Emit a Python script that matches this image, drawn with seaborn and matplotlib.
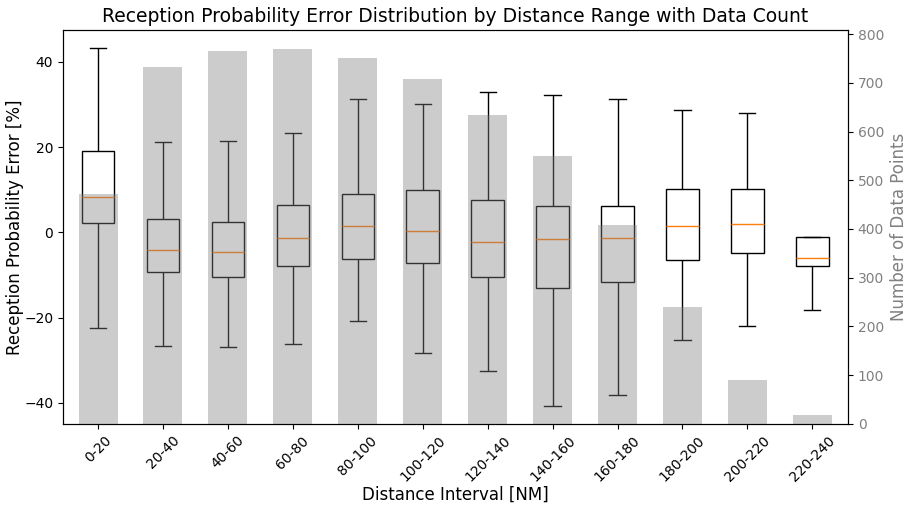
import numpy as np
import pandas as pd
import matplotlib
matplotlib.use("Agg")
import matplotlib.pyplot as plt
import seaborn as sns

intervals = ["0-20", "20-40", "40-60", "60-80", "80-100", "100-120",
             "120-140", "140-160", "160-180", "180-200", "200-220", "220-240"]
whisker_low = [-22.4, -26.7, -27.0, -26.1, -20.9, -28.2, -32.5, -40.7, -38.1, -25.2, -21.9, -18.2]
q1 = [2.1, -9.2, -10.5, -7.9, -6.2, -7.2, -10.4, -13.0, -11.6, -6.5, -4.8, -8.0]
median = [8.3, -4.1, -4.6, -1.4, 1.6, 0.35, -2.3, -1.5, -1.3, 1.5, 2.0, -6.1]
q3 = [19.2, 3.2, 2.4, 6.4, 9.0, 10.0, 7.6, 6.1, 6.2, 10.2, 10.2, -1.1]
whisker_high = [43.3, 21.1, 21.5, 23.4, 31.2, 30.1, 33.0, 32.3, 31.3, 28.7, 28.1, -1.0]
counts = [471, 732, 765, 770, 750, 707, 634, 549, 409, 240, 90, 18]

# Build a long table whose quartiles/extremes reproduce the box statistics
rows = []
for i, name in enumerate(intervals):
    for v in (whisker_low[i], q1[i], median[i], q3[i], whisker_high[i]):
        rows.append({"interval": name, "error": v})
df = pd.DataFrame(rows)
df["interval"] = pd.Categorical(df["interval"], categories=intervals, ordered=True)
cnt = pd.DataFrame({"interval": pd.Categorical(intervals, categories=intervals, ordered=True),
                    "count": counts})

fig = plt.figure(figsize=(9.06, 5.05), dpi=100)
ax = fig.add_axes([0.0695, 0.161, 0.8665, 0.7796])

sns.boxplot(data=df, x="interval", y="error", ax=ax, whis=(0, 100), width=0.5,
            color="white", linecolor="black", linewidth=1, saturation=1,
            medianprops={"color": "#ff7f0e", "linewidth": 1},
            showfliers=False)

ax2 = ax.twinx()
sns.barplot(data=cnt, x="interval", y="count", ax=ax2, color="gray", alpha=0.4,
            width=0.6, saturation=1, errorbar=None)
ax2.set_ylabel("Number of Data Points", color="gray", fontsize=12)
ax2.tick_params(axis="y", labelcolor="gray")

ax.set_xlabel("Distance Interval [NM]", fontsize=12, labelpad=1)
ax.set_ylabel("Reception Probability Error [%]", fontsize=12, labelpad=0)
ax.set_title("Reception Probability Error Distribution by Distance Range with Data Count",
             fontsize=13.5)
ax.set_xticks(range(len(intervals)))
ax.set_xticklabels(intervals, rotation=45, fontsize=10)
ax.set_xlim(-0.54, len(intervals) - 0.45)

fig.savefig("out.png", dpi=100)
